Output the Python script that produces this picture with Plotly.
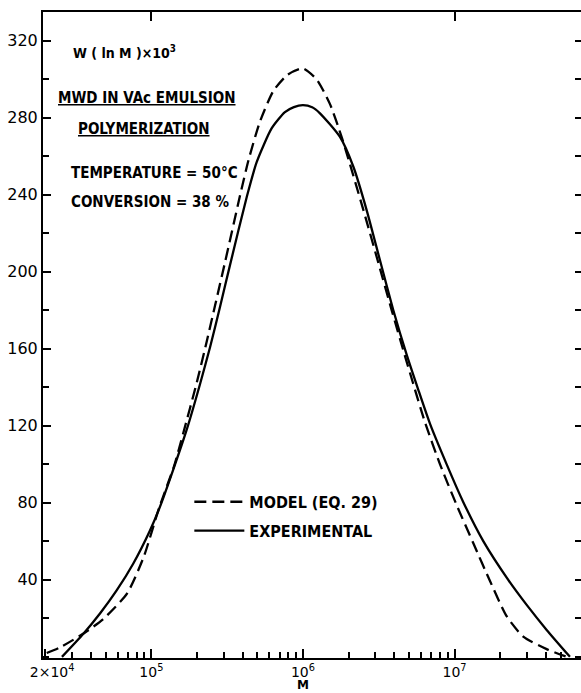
import plotly.graph_objects as go

# ---- data ----
exp_M = [2.57e4, 3.56e4, 4.58e4, 5.9e4, 7.6e4, 9.77e4, 1.14e5, 1.39e5, 1.71e5,
         2.09e5, 2.44e5, 2.84e5, 3.3e5, 4.26e5, 4.95e5, 6.21e5, 7.6e5, 8.71e5,
         1.0e6, 1.15e6, 1.29e6, 1.75e6, 2.15e6, 2.63e6, 3.22e6, 3.94e6, 4.83e6,
         5.75e6, 6.89e6, 8.87e6, 1.14e7, 1.55e7, 2.26e7, 2.99e7, 4.05e7, 5.77e7]
exp_W = [0, 12, 22.5, 34.5, 48.5, 65.5, 78, 97, 118,
         141.5, 161, 182, 203.5, 239, 257, 274.5, 283, 285.6,
         286.6, 285.5, 282.5, 270.2, 254.6, 232.1, 206, 180.2, 157,
         139, 121, 100, 80.5, 60, 40, 27, 14, 0]

model_M = [2.04e4, 2.51e4, 3.63e4, 4.79e4, 6.92e4, 8.91e4, 1.12e5, 1.41e5, 1.62e5,
           2.0e5, 2.32e5, 2.63e5, 3.06e5, 3.84e5, 4.37e5, 5.2e5, 6.38e5, 7.94e5,
           1.0e6, 1.23e6, 1.51e6, 1.8e6, 2.04e6, 2.57e6, 3.16e6, 3.85e6, 4.68e6,
           5.33e6, 6.37e6, 8.02e6, 1.03e7, 1.33e7, 1.71e7, 2.21e7, 2.84e7, 4.05e7,
           5.5e7]
model_W = [2, 5, 12.5, 19.5, 33, 52, 77, 99, 116,
           143, 164, 182.5, 205, 239.5, 258, 278, 294, 302.5,
           305.7, 300, 287, 270, 256, 229, 204, 180, 157,
           142, 122, 100, 79, 59, 39.5, 21, 10.5, 4,
           0]

x_tickvals = [2e4, 1e5, 1e6, 1e7]
x_ticktext = ["&nbsp;&nbsp;&nbsp;2×10<sup>4</sup>", "10<sup>5</sup>", "10<sup>6</sup>", "10<sup>7</sup>"]
x_minor = [3e4, 4e4, 5e4, 6e4, 7e4, 8e4, 9e4,
           2e5, 3e5, 4e5, 5e5, 6e5, 7e5, 8e5, 9e5,
           2e6, 3e6, 4e6, 5e6, 6e6, 7e6, 8e6, 9e6,
           2e7, 3e7, 4e7, 5e7]
y_tickvals = [40, 80, 120, 160, 200, 240, 280, 320]

X_RANGE = [4.285, 7.834]
Y_RANGE = [-0.6, 335]

LABEL_FONT = "Liberation Sans Narrow, DejaVu Sans Condensed, Liberation Sans, Arial"
TICK_FONT = "DejaVu Sans, Verdana, sans-serif"

fig = go.Figure()
fig.add_trace(go.Scatter(
    x=model_M, y=model_W, mode="lines", name="<b>MODEL (EQ. 29)</b>",
    line=dict(color="black", width=2.3, dash="12px,6px", shape="spline", smoothing=0.6),
    legendgroup="a"))
fig.add_trace(go.Scatter(
    x=exp_M, y=exp_W, mode="lines", name="<b>EXPERIMENTAL</b>",
    line=dict(color="black", width=2.3, shape="spline", smoothing=0.6),
    legendgroup="b"))

fig.update_layout(
    width=581, height=693,
    margin=dict(l=43, r=0, t=12, b=35),
    paper_bgcolor="white", plot_bgcolor="white",
    showlegend=True,
    legend=dict(x=0.272, y=0.268, xanchor="left", yanchor="top",
                bgcolor="rgba(0,0,0,0)", borderwidth=0, tracegroupgap=5,
                font=dict(family=LABEL_FONT, size=16, color="black"),
                itemwidth=50),
    xaxis=dict(type="log", range=X_RANGE, showgrid=False, zeroline=False,
               showline=True, linecolor="black", linewidth=2,
               tickmode="array", tickvals=x_tickvals, ticktext=x_ticktext,
               ticks="inside", ticklen=9, tickwidth=1.5, tickcolor="black",
               tickfont=dict(family=TICK_FONT, size=14, color="black"),
               minor=dict(tickmode="array", tickvals=x_minor, ticks="inside",
                          ticklen=6, tickwidth=1.5, tickcolor="black", showgrid=False)),
    xaxis2=dict(type="log", range=X_RANGE, overlaying="x", side="top", anchor="y",
                showgrid=False, zeroline=False, showline=True, linecolor="black",
                linewidth=2, tickmode="array", tickvals=[1e5, 1e6, 1e7],
                ticks="inside", ticklen=9, tickwidth=1.5, tickcolor="black",
                showticklabels=False),
    yaxis=dict(range=Y_RANGE, showgrid=False, zeroline=False,
               showline=True, linecolor="black", linewidth=2,
               tickmode="array", tickvals=y_tickvals,
               ticks="inside", ticklen=8, tickwidth=1.5, tickcolor="black",
               tickfont=dict(family=TICK_FONT, size=16, color="black"),
               minor=dict(dtick=20, tick0=0, ticks="inside", ticklen=6,
                          tickwidth=1.5, tickcolor="black", showgrid=False)),
    yaxis2=dict(range=Y_RANGE, overlaying="y", side="right", anchor="x",
                showgrid=False, zeroline=False, showline=False,
                tickmode="linear", tick0=0, dtick=20,
                ticks="inside", ticklen=6, tickwidth=1.5, tickcolor="black",
                showticklabels=False),
)

# invisible trace to anchor the mirror axes
fig.add_trace(go.Scatter(x=[1e6], y=[None], xaxis="x2", yaxis="y2",
                         showlegend=False, hoverinfo="skip", mode="lines"))

texts = [
    ("W ( ln M )×10<sup>3</sup>", 0.052, 0.938, 14),
    ("<u>MWD IN VAc EMULSION</u>", 0.024, 0.867, 15),
    ("<u>POLYMERIZATION</u>", 0.061, 0.819, 15),
    ("TEMPERATURE = 50°C", 0.048, 0.751, 15),
    ("CONVERSION = 38 %", 0.048, 0.706, 15),
]
for t, xp, yp, sz in texts:
    fig.add_annotation(text="<b>" + t + "</b>", x=xp, y=yp, xref="paper", yref="paper",
                       xanchor="left", yanchor="middle", showarrow=False,
                       font=dict(family=LABEL_FONT, size=sz, color="black"))

# axis title "M" placed just under the 10^6 label (log axis -> log10 coordinate)
fig.add_annotation(text="<b>M</b>", x=6, xref="x", y=-0.0542, yref="paper",
                   xanchor="center", yanchor="bottom", showarrow=False, borderpad=0,
                   font=dict(family=TICK_FONT, size=12, color="black"))

fig.write_html("out.html")
